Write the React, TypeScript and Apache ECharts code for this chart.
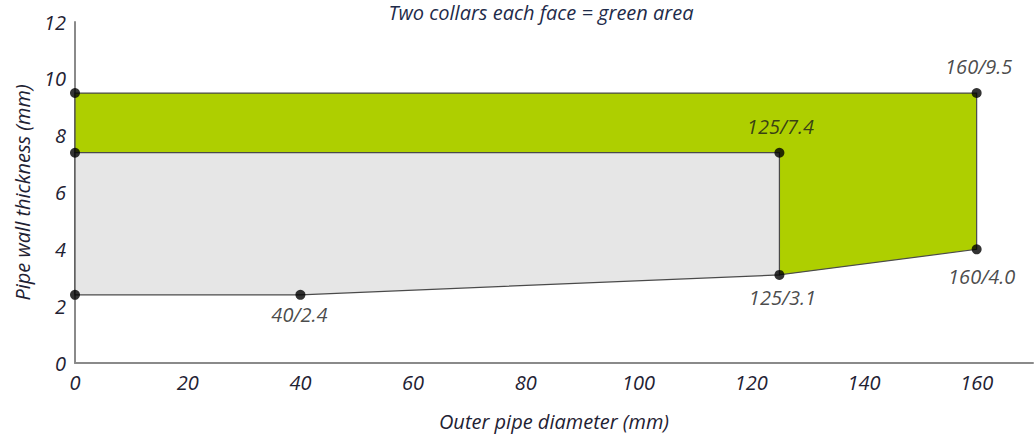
import React, { useEffect, useRef } from "react";
import * as echarts from "echarts";

const greenArea: number[][] = [
  [0, 9.5], [160, 9.5], [160, 4.0], [125, 3.1], [125, 7.4], [0, 7.4],
];
const greyArea: number[][] = [
  [0, 7.4], [125, 7.4], [125, 3.1], [40, 2.4], [0, 2.4],
];
const markerPoints: number[][] = [
  [0, 9.5], [0, 7.4], [0, 2.4], [40, 2.4], [125, 3.1], [125, 7.4], [160, 9.5], [160, 4.0],
];
const pointLabels: string[] = ["", "", "", "40/2.4", "125/3.1", "125/7.4", "160/9.5", "160/4.0"];

// label placement (style, not data)
const labelPlacement: { pos: string; dist: number; dx: number }[] = [
  { pos: "top", dist: 0, dx: 0 },
  { pos: "top", dist: 0, dx: 0 },
  { pos: "top", dist: 0, dx: 0 },
  { pos: "bottom", dist: 5, dx: -1 },
  { pos: "bottom", dist: 8, dx: 3 },
  { pos: "top", dist: 11, dx: 1 },
  { pos: "top", dist: 12, dx: 2 },
  { pos: "bottom", dist: 12, dx: 5 },
];

const FONT = "'Open Sans', sans-serif";
const TEXT = "#1f2233";

export default function App() {
  const ref = useRef<HTMLDivElement>(null);
  useEffect(() => {
    if (!ref.current) return;
    const chart = echarts.init(ref.current, null, { renderer: "svg" });
    const polys = [
      { pts: greenArea, fill: "#aecf00" },
      { pts: greyArea, fill: "#e6e6e6" },
    ];
    chart.setOption({
      animation: false,
      title: {
        text: "Two collars each face = green area",
        left: 541,
        textAlign: "center",
        top: 2,
        padding: 0,
        textStyle: { fontFamily: FONT, fontStyle: "italic", fontWeight: "normal", fontSize: 20, lineHeight: 20, color: "#1e2b4a" },
      },
      grid: { left: 75, right: 2, top: 22, bottom: 77 },
      xAxis: {
        type: "value",
        min: 0,
        max: 170,
        interval: 20,
        name: "Outer pipe diameter (mm)",
        nameLocation: "middle",
        nameGap: 48,
        nameTextStyle: { fontFamily: FONT, fontStyle: "italic", fontSize: 20, color: TEXT },
        axisLine: { show: true, lineStyle: { color: "#8a8a8a", width: 2 } },
        axisTick: { show: false },
        splitLine: { show: false },
        axisLabel: {
          fontFamily: FONT, fontStyle: "italic", fontSize: 20, color: TEXT, margin: 9,
          showMaxLabel: false,
          formatter: (v: number) => (v > 160 ? "" : String(v)),
        },
      },
      yAxis: {
        type: "value",
        min: 0,
        max: 12,
        interval: 2,
        name: "Pipe wall thickness (mm)",
        nameLocation: "middle",
        nameRotate: 90,
        nameGap: 43,
        nameTextStyle: { fontFamily: FONT, fontStyle: "italic", fontSize: 20, color: TEXT },
        axisLine: { show: true, lineStyle: { color: "#8a8a8a", width: 2 } },
        axisTick: { show: false },
        splitLine: { show: false },
        axisLabel: { fontFamily: FONT, fontStyle: "italic", fontSize: 20, color: TEXT, margin: 9 },
      },
      series: [
        {
          type: "custom",
          data: polys.map((_, i) => [i, 0]),
          silent: true,
          z: 1,
          renderItem: (params: any, api: any) => {
            const p = polys[params.dataIndex];
            return {
              type: "polygon",
              shape: { points: p.pts.map((q) => api.coord(q)) },
              style: { fill: p.fill, stroke: "#4a4a4a", lineWidth: 1.2 },
            };
          },
        },
        {
          type: "scatter",
          z: 3,
          symbol: "circle",
          symbolSize: 10,
          itemStyle: { color: "#000" },
          data: markerPoints.map((pt, i) => ({
            value: pt,
            label: {
              show: pointLabels[i] !== "",
              formatter: pointLabels[i],
              position: labelPlacement[i].pos,
              distance: labelPlacement[i].dist,
              offset: [labelPlacement[i].dx, 0],
              fontFamily: FONT,
              fontStyle: "italic",
              fontSize: 20,
              color: "#1a1a1a",
            },
          })),
        },
      ],
    });
    return () => chart.dispose();
  }, []);
  return <div ref={ref} style={{ width: 1035, height: 440, position: "absolute", left: 0, top: 0 }} />;
}
